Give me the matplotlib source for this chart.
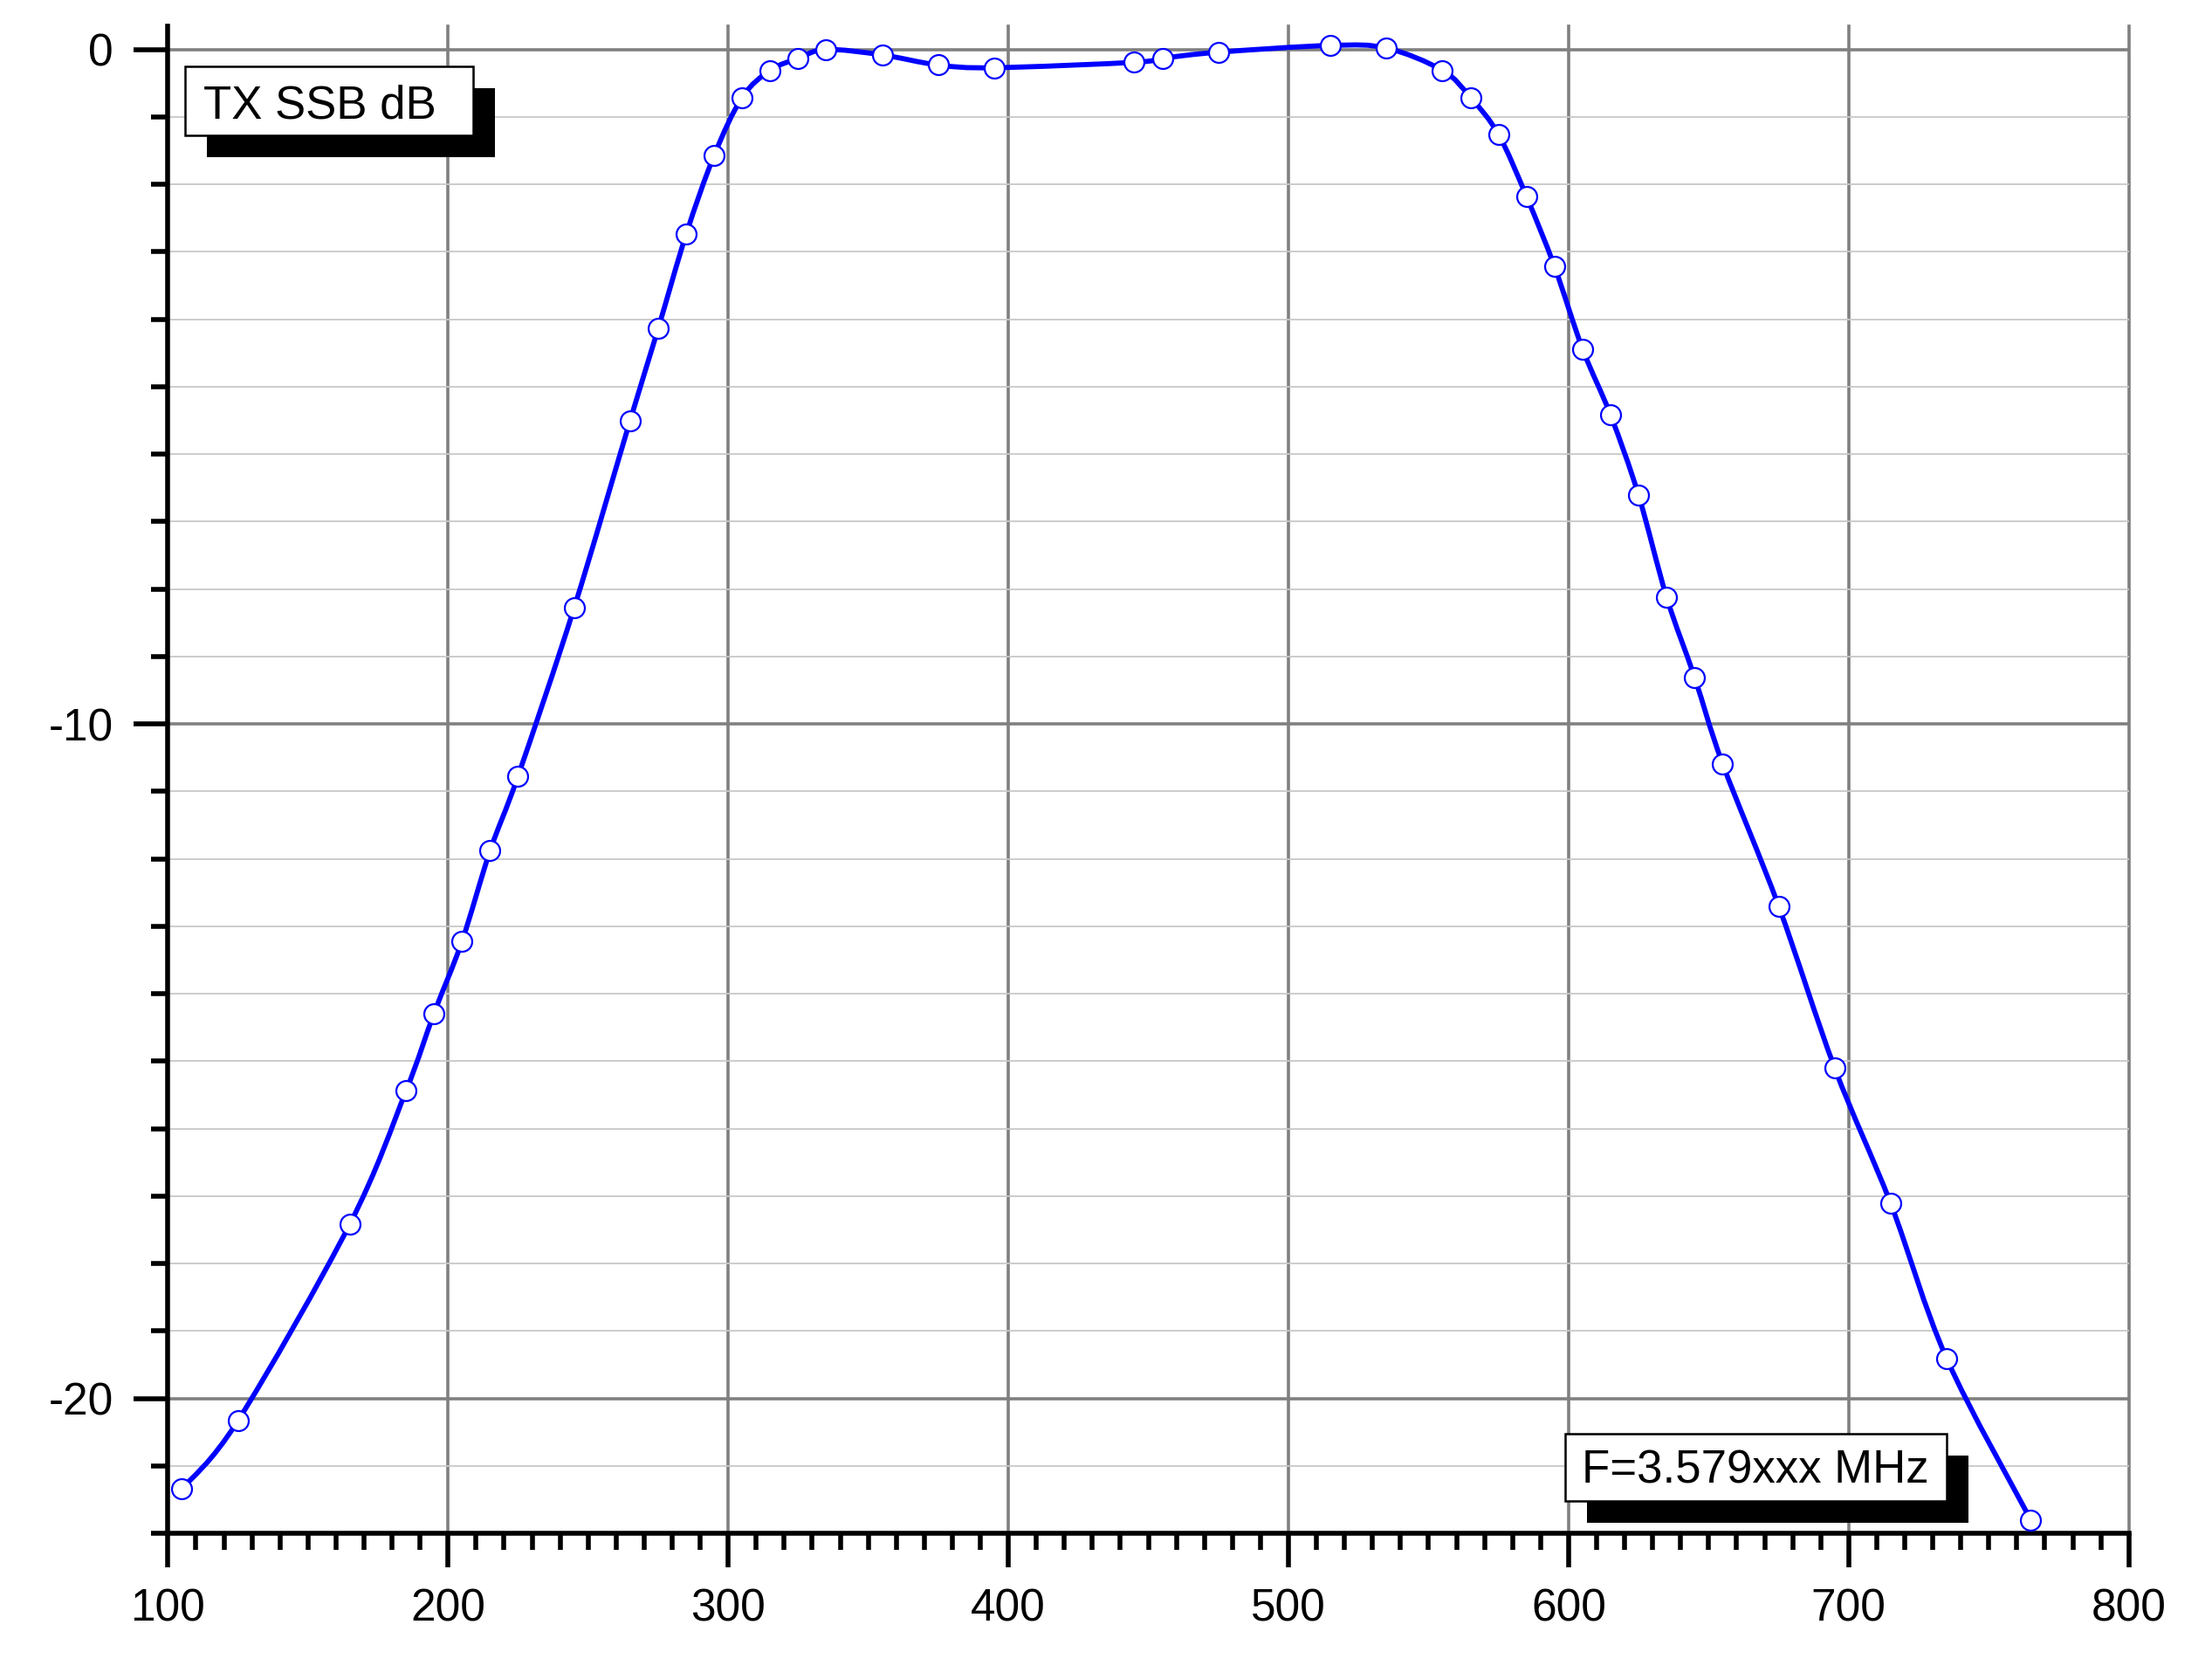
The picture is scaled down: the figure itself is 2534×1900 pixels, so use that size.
import matplotlib
matplotlib.use('Agg')
import matplotlib.pyplot as plt
from matplotlib.path import Path
from matplotlib.patches import PathPatch, Rectangle
from matplotlib.ticker import MultipleLocator
import numpy as np

plt.rcParams['font.family'] = ['Liberation Sans', 'DejaVu Sans']
plt.rcParams['axes.unicode_minus'] = False

# Frequenz-Offset (Hz) und Pegel (dB) der Messpunkte
freq = [105, 125, 165, 185, 195, 205, 215, 225, 245, 265, 275, 285, 295, 305,
        315, 325, 335, 355, 375, 395, 445, 455, 475, 515, 535, 555, 565, 575,
        585, 595, 605, 615, 625, 635, 645, 655, 675, 695, 715, 735, 765]
level = [-21.34, -20.33, -17.41, -15.44, -14.29, -13.22, -11.88, -10.77, -8.28,
         -5.50, -4.14, -2.74, -1.57, -0.71, -0.31, -0.13, 0.00, -0.08, -0.23,
         -0.27, -0.19, -0.13, -0.04, 0.06, 0.02, -0.31, -0.71, -1.26, -2.18,
         -3.22, -4.44, -5.42, -6.61, -8.12, -9.31, -10.59, -12.70, -15.10,
         -17.11, -19.41, -21.80]

x_ticks = [100, 200, 300, 400, 500, 600, 700, 800]
y_ticks = [-20, -10, 0]
label_top = 'TX SSB dB'
label_bottom = 'F=3.579xxx MHz'


def smooth_path(xs, ys):
    # Catmull-Rom Kurve als Bezier-Pfad durch die Messpunkte
    pts = np.column_stack([xs, ys]).astype(float)
    verts = [pts[0]]
    codes = [Path.MOVETO]
    n = len(pts)
    for i in range(n - 1):
        p0 = pts[max(i - 1, 0)]
        p1 = pts[i]
        p2 = pts[i + 1]
        p3 = pts[min(i + 2, n - 1)]
        c1 = p1 + (p2 - p0) / 6.0
        c2 = p2 - (p3 - p1) / 6.0
        verts += [c1, c2, p2]
        codes += [Path.CURVE4] * 3
    return Path(verts, codes)


def label_box(ax, txt, x0, x1, y0, y1, tx, ty):
    # weisse Box mit schwarzem Schatten (wie im Origin-Export)
    dx, dy = 7.8, 0.32
    ax.add_patch(Rectangle((x0 + dx, y0 - dy), x1 - x0, y1 - y0, fc='black',
                           ec='none', zorder=5, clip_on=False))
    ax.add_patch(Rectangle((x0, y0), x1 - x0, y1 - y0, fc='white', ec='black',
                           lw=1.8, zorder=6, clip_on=False))
    ax.text(tx, ty, txt, fontsize=38, ha='left', va='baseline', zorder=7)


fig = plt.figure(figsize=(25.34, 19.0), dpi=100)
ax = fig.add_axes([0.0759, 0.0757, 0.8865, 0.9087])

ax.add_patch(PathPatch(smooth_path(freq, level), fill=False, edgecolor='#0000ff',
                       lw=4.2, zorder=3))
ax.plot(freq, level, 'o', ls='none', mfc='white', mec='#0000ff', ms=16.5, mew=1.6,
        zorder=4, clip_on=False)

ax.set_xlim(100, 800)
ax.set_ylim(-22, 0.35)
ax.set_xticks(x_ticks)
ax.set_yticks(y_ticks)
ax.xaxis.set_minor_locator(MultipleLocator(10))
ax.yaxis.set_minor_locator(MultipleLocator(1))

ax.grid(which='major', color='#808080', lw=2.6, zorder=1)
ax.grid(which='minor', axis='y', color='#c8c8c8', lw=1.3, zorder=1)
ax.set_axisbelow(True)
for gl in ax.xaxis.get_gridlines():
    gl.set_clip_on(False)

ax.tick_params(which='major', direction='out', length=28, width=4,
               labelsize=37, pad=17, color='black')
ax.tick_params(which='minor', direction='out', length=14, width=4, color='black')

for side in ['top', 'right']:
    ax.spines[side].set_visible(False)
for side in ['left', 'bottom']:
    ax.spines[side].set_linewidth(4)
    ax.spines[side].set_color('black')

label_box(ax, label_top, 106.1, 209.0, -1.274, -0.251, 112.7, -1.015)
label_box(ax, label_bottom, 598.8, 735.0, -21.52, -20.52, 604.7, -21.25)

fig.savefig('out.png', dpi=100)
